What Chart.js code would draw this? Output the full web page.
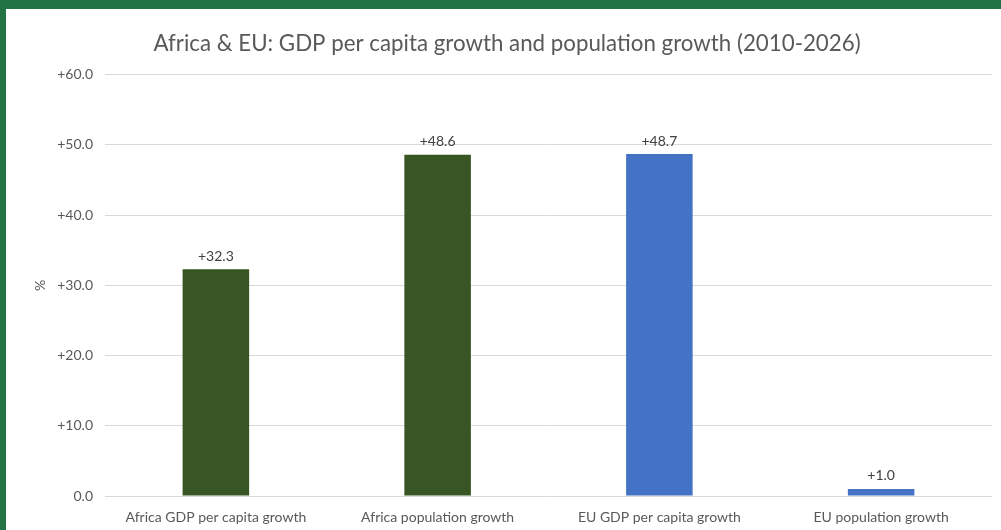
<!DOCTYPE html>
<html>
<head>
<meta charset="utf-8">
<script src="https://cdn.jsdelivr.net/npm/chart.js@4"></script>
<style>
  html, body { margin: 0; padding: 0; background: #217346; width: 1001px; height: 530px; overflow: hidden; }
  #frame { position: absolute; left: 6px; top: 9px; width: 995px; height: 521px; background: #fff; }
</style>
</head>
<body>
<div id="frame"><canvas id="growthChart" width="995" height="521"></canvas></div>
<script>
// Africa & EU growth chart

const categories = ['Africa GDP per capita growth', 'Africa population growth', 'EU GDP per capita growth', 'EU population growth'];
const growthValues = [32.3, 48.6, 48.7, 1.0];
const barColors = ['#375623', '#375623', '#4472C4', '#4472C4'];
const yTicks = [0, 10, 20, 30, 40, 50, 60];

const fmt = v => (v > 0 ? '+' : '') + Number(v).toFixed(1);

// value labels above bars
const barLabels = {
    id: 'barLabels',
    afterDatasetsDraw(chart) {
        const ctx = chart.ctx;
        const meta = chart.getDatasetMeta(0);
        ctx.save();
        ctx.font = '14px Lato';
        ctx.fillStyle = '#404040';
        ctx.textAlign = 'center';
        ctx.textBaseline = 'bottom';
        meta.data.forEach((bar, i) => {
            ctx.fillText(fmt(growthValues[i]), bar.x, bar.y - 6);
        });
        ctx.restore();
    }
};

new Chart(document.getElementById('growthChart'), {
    type: 'bar',
    data: {
        labels: categories,
        datasets: [{
            data: growthValues,
            backgroundColor: barColors,
            categoryPercentage: 1,
            barPercentage: 0.3
        }]
    },
    options: {
        responsive: false,
        animation: false,
        layout: { padding: { left: 16, right: 9, bottom: 0 } },
        plugins: {
            legend: { display: false },
            tooltip: { enabled: false },
            title: {
                display: true,
                text: 'Africa & EU: GDP per capita growth and population growth (2010-2026)',
                color: '#595959',
                font: { family: 'Lato', size: 22.3, weight: 'normal' },
                padding: { top: 21, bottom: 18 }
            }
        },
        scales: {
            x: {
                grid: { display: false },
                border: { display: false },
                ticks: { color: '#595959', font: { family: 'Lato', size: 14, lineHeight: 1 }, padding: 6 }
            },
            y: {
                min: 0,
                max: 60,
                afterFit: s => { s.width = 83; },
                afterBuildTicks: s => { s.ticks = yTicks.map(v => ({ value: v })); },
                grid: { color: '#d9d9d9', drawTicks: false },
                border: { display: false },
                ticks: { color: '#595959', font: { family: 'Lato', size: 14 }, padding: 12, callback: v => fmt(v) },
                title: { display: true, text: '%', color: '#595959', font: { family: 'Lato', size: 14 }, padding: { top: 10, bottom: 0 } }
            }
        }
    },
    plugins: [barLabels]
});
</script>
</body>
</html>
